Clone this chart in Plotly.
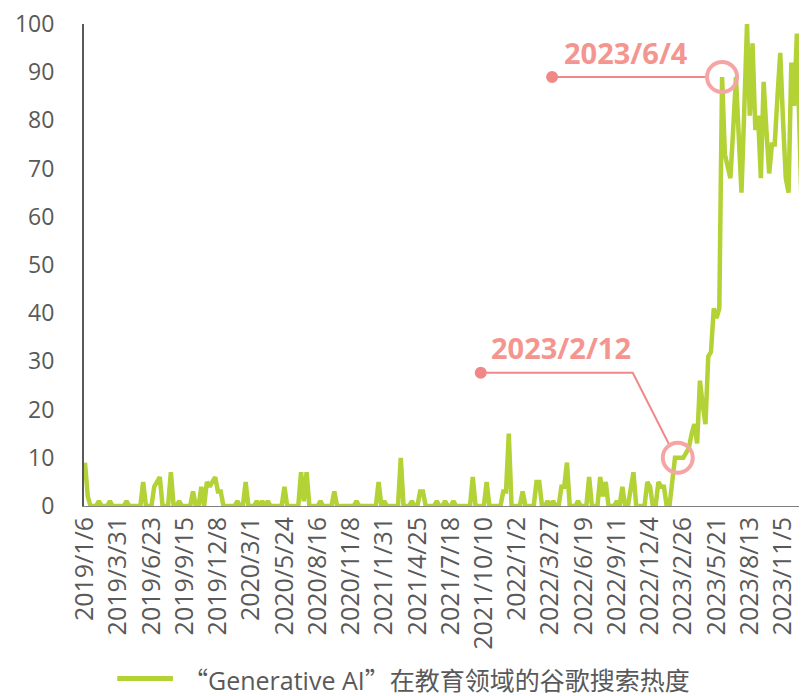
import pandas as pd
import plotly.graph_objects as go

# weekly Google Trends index, first week 2019/1/6
start_week = "2019-01-06"
heat = [
    9, 2, 0, 0, 0, 1, 0, 0, 0, 1, 0, 0, 0, 0, 0, 1, 0, 0, 0, 0,
    0, 5, 0, 0, 0, 4, 5, 6, 0, 0, 0, 7, 0, 0, 1, 0, 0, 0, 0, 3,
    0, 0, 4, 0, 5, 4, 5, 6, 3, 3, 0, 0, 0, 0, 0, 1, 0, 0, 5, 0,
    0, 0, 1, 0, 1, 0, 1, 0, 0, 0, 0, 0, 4, 0, 0, 0, 0, 0, 7, 1,
    7, 0, 0, 0, 0, 1, 0, 0, 0, 0, 3, 0, 0, 0, 0, 0, 0, 0, 1, 0,
    0, 0, 0, 0, 0, 0, 5, 0, 1, 0, 0, 0, 0, 0, 10, 0, 0, 0, 1, 0,
    0, 3, 3, 0, 0, 0, 0, 1, 0, 0, 1, 0, 0, 1, 0, 0, 0, 0, 0, 0,
    6, 0, 0, 0, 0, 5, 0, 0, 0, 0, 0, 3, 3, 15, 0, 0, 0, 0, 3, 0,
    0, 0, 0, 5, 5, 0, 0, 1, 0, 1, 0, 0, 4, 4, 9, 0, 0, 0, 1, 0,
    0, 0, 6, 0, 0, 0, 6, 2, 5, 0, 0, 0, 1, 0, 4, 0, 0, 4, 7, 0,
    0, 0, 0, 5, 4, 0, 0, 5, 4, 4, 0, 0, 6, 10, 10, 10, 10, 11, 12, 15,
    17, 13, 26, 21, 17, 31, 32, 41, 39, 41, 89, 73, 70, 68, 78, 89, 77, 65, 82, 100,
    81, 96, 78, 81, 68, 88, 78, 69, 75, 75, 85, 94, 80, 68, 65, 92, 83, 98, 77, 56,
    85,
]
tick_every = 12  # label every 12 weeks
highlights = ["2023-02-12", "2023-06-04"]
series_name = "“Generative AI”在教育领域的谷歌搜索热度"

weeks = pd.date_range(start_week, periods=len(heat), freq="7D")
tick_dates = weeks[::tick_every]
tick_text = [f"{d.year}/{d.month}/{d.day}" for d in tick_dates]

green = "#B2D235"
pink_text = "#F4958F"
pink_ring = "#F5A5A5"
pink_line = "#F08888"
grey = "#595959"
font = "Open Sans, Noto Sans CJK SC, sans-serif"
cjk = "Noto Sans CJK SC"

fig = go.Figure()
fig.add_trace(go.Scatter(
    x=weeks, y=heat, mode="lines", name=series_name,
    line=dict(color=green, width=4.5), showlegend=False,
))

# callouts: ring on the point, leader line to a dot, bold date label
# offsets (pixels) relative to the highlighted point, y up
callout = {
    "2023-02-12": dict(dot=(-197, 85), path="M -197 85 L -45 85 L -9 14", text=(-117, 110)),
    "2023-06-04": dict(dot=(-170, 0), path="M -170 0 L -16 0", text=(-96, 25)),
}
for d in highlights:
    ts = pd.Timestamp(d)
    val = heat[list(weeks).index(ts)]
    c = callout[d]
    common = dict(xref="x", yref="y", xsizemode="pixel", ysizemode="pixel",
                  xanchor=ts, yanchor=val)
    fig.add_shape(type="path", path=c["path"], line=dict(color=pink_line, width=2), **common)
    dx, dy = c["dot"]
    fig.add_shape(type="circle", x0=dx - 6, x1=dx + 6, y0=dy - 6, y1=dy + 6,
                  fillcolor=pink_line, line=dict(width=0), **common)
    fig.add_shape(type="circle", x0=-15, x1=15, y0=-15, y1=15,
                  line=dict(color=pink_ring, width=4), **common)
    tx, ty = c["text"]
    fig.add_annotation(x=ts, y=val, xref="x", yref="y", text=f"<b>{ts.year}/{ts.month}/{ts.day}</b>",
                       showarrow=False, xshift=tx, yshift=ty,
                       font=dict(family=font, size=29, color=pink_text))

# legend drawn by hand: the original has a long swatch line
legend_y = -0.358
fig.add_shape(type="line", xref="paper", yref="paper", x0=0.046, x1=0.123,
              y0=legend_y, y1=legend_y, line=dict(color=green, width=5))
legend_label = series_name.replace("“", f'<span style="font-family:{cjk}">“</span>') \
                          .replace("”", f'<span style="font-family:{cjk}">”</span>')
fig.add_annotation(x=0.134, y=legend_y, xref="paper", yref="paper", xanchor="left",
                   yanchor="middle", text=legend_label, showarrow=False,
                   font=dict(family=font, size=25, color=grey))

# page body adds 8px around the figure, so margins are trimmed by that
fig.update_layout(
    width=807, height=696,
    margin=dict(l=76, r=8, t=16, b=198, autoexpand=False),
    plot_bgcolor="white", paper_bgcolor="white",
    font=dict(family=font, color=grey),
    showlegend=False,
)
fig.update_xaxes(
    range=[pd.Timestamp(start_week) - pd.Timedelta(days=2.5),
           pd.Timestamp(start_week) + pd.Timedelta(days=1824.6)],
    tickvals=tick_dates, ticktext=tick_text, tickangle=-90,
    tickfont=dict(size=25, color=grey), automargin=False, ticklabeloverflow="allow",
    showgrid=False, zeroline=False, showline=True, linecolor="#808080", linewidth=1,
    ticks="",
)
fig.update_yaxes(
    range=[0, 100], dtick=10, tickfont=dict(size=23, color=grey), automargin=False,
    ticklabeloverflow="allow",
    showgrid=False, zeroline=False, showline=True, linecolor=grey, linewidth=2,
    ticks="", ticklabelstandoff=23,
)

fig.write_html("out.html")
